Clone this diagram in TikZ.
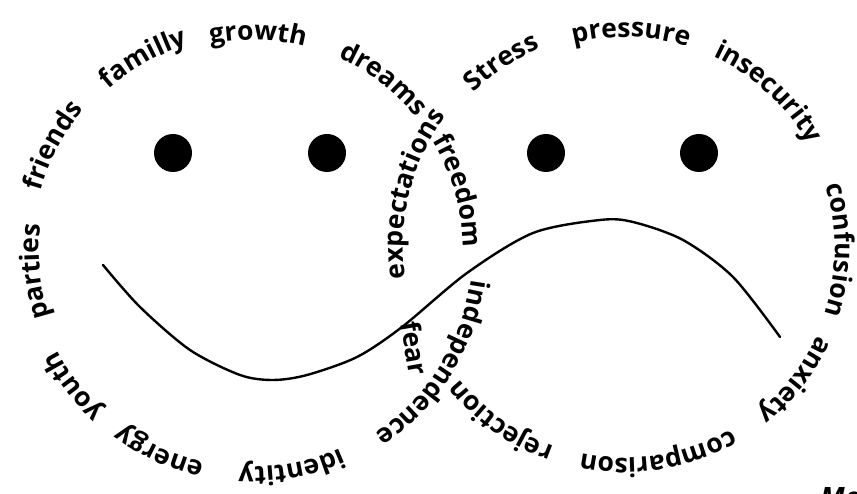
\documentclass[tikz,border=0pt]{standalone}
\usepackage{fontspec}
\setmainfont{Open Sans}
\usetikzlibrary{decorations.text,calc}
\newcommand\wfont{\fontsize{26.5}{30}\selectfont\bfseries}
\newcommand\arcword[5]{%
  \path[wordarc={#5}] ($(#1,#2)+(#4+40:#3)$) arc[start angle=#4+40, end angle=#4-40, radius=#3];}
\tikzset{
  wordarc/.style={decorate, decoration={text along path, text={|\wfont|#1}, text align=center}},
  eyedot/.style={circle, fill=black, minimum size=38pt, inner sep=0pt},
  mouth/.style={line width=2.4pt, line cap=round},
}
\begin{document}
\begin{tikzpicture}[x=1pt,y=1pt]
\fill[white] (0,0) rectangle (857,494);
\useasboundingbox (0,0) rectangle (857,494);
% eyes
\node[eyedot] (eyeA) at (173,341) {};
\node[eyedot] (eyeB) at (327,341) {};
\node[eyedot] (eyeC) at (546,341) {};
\node[eyedot] (eyeD) at (699,341) {};
% mouth
\draw[mouth] plot[smooth, tension=0.5] coordinates {(103,229) (140,187) (190,144) (240,119) (273,114) (307,119) (357,137) (402,167) (467,221) (533,261) (600,274) (633,272) (683,254) (733,217) (780,157)};
% left circle words
\arcword{252}{244}{213}{185.7}{parties}
\arcword{252}{244}{219}{152.3}{friends}
\arcword{252}{244}{215}{119.5}{familly}
\arcword{252}{244}{210}{88.4}{growth}
\arcword{252}{244}{211}{52.4}{dreams}
\arcword{252}{244}{211}{16}{freedom}
\arcword{252}{244}{221}{-32}{independence}
\arcword{252}{244}{217}{-79.7}{identity}
\arcword{252}{244}{218}{-114.6}{energy}
\arcword{252}{244}{219}{-142.7}{youth}
% right circle words
\arcword{625}{247}{222}{166}{expectations}
\arcword{625}{247}{216}{123.8}{Stress}
\arcword{625}{247}{210}{88.4}{pressure}
\arcword{625}{247}{210}{47.2}{insecurity}
\arcword{625}{247}{210}{-0.8}{confusion}
\arcword{625}{247}{212}{-38}{anxiety}
\arcword{625}{247}{211}{-80.8}{comparison}
\arcword{625}{247}{212}{-125.5}{rejection}
\node[rotate=-80, font=\wfont, inner sep=0pt] (fear) at (415,146) {fear};
\node[anchor=north west, inner sep=0pt, font=\fontsize{28}{30}\selectfont\bfseries\itshape] (mo) at (820,7) {Mo};
\end{tikzpicture}
\end{document}
